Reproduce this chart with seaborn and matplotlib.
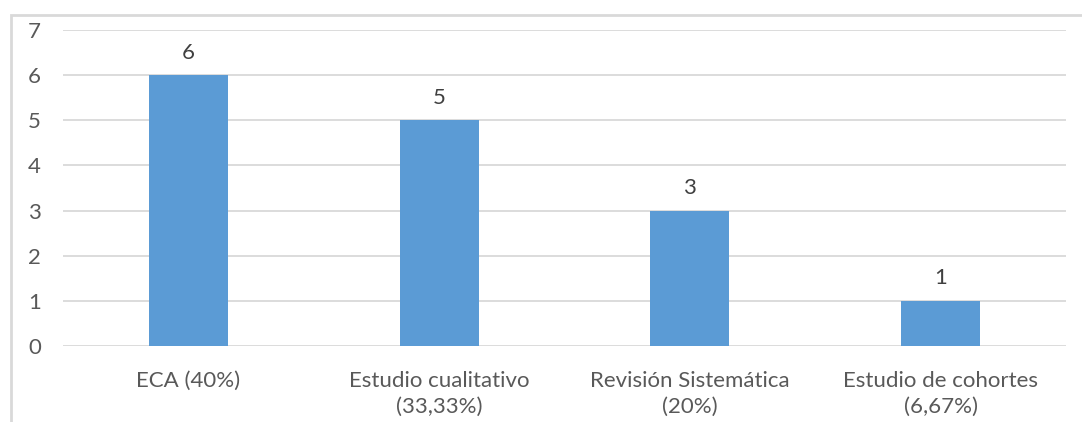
import matplotlib
matplotlib.use("Agg")
import matplotlib.pyplot as plt
import seaborn as sns
import pandas as pd
from matplotlib.patches import Rectangle

categories = ["ECA (40%)", "Estudio cualitativo\n(33,33%)", "Revisión Sistemática\n(20%)",
              "Estudio de cohortes\n(6,67%)"]
counts = [6, 5, 3, 1]
y_ticks = [0, 1, 2, 3, 4, 5, 6, 7]

sns.set_theme(style="white")
plt.rcParams["font.family"] = ["Lato", "DejaVu Sans"]

W, H = 1082, 422
fig = plt.figure(figsize=(W / 100, H / 100), dpi=100)
ax = fig.add_axes([63 / W, 1 - 346 / H, (1066 - 63) / W, (346 - 30) / H])

df = pd.DataFrame({"cat": categories, "n": counts})
sns.barplot(data=df, x="cat", y="n", color="#5B9BD5", saturation=1, width=0.315,
            linewidth=0, ax=ax, zorder=3)

ax.set_ylim(0, 7)
ax.set_xlim(-0.5, len(categories) - 0.5)
ax.set_yticks(y_ticks)
ax.yaxis.grid(True, color="#D9D9D9", linewidth=1.3, zorder=0)
ax.set_axisbelow(True)
for s in ax.spines.values():
    s.set_visible(False)
ax.set_xlabel("")
ax.set_ylabel("")
ax.tick_params(axis="both", length=0, colors="#595959", labelsize=16)
ax.tick_params(axis="y", pad=16)
ax.tick_params(axis="x", pad=18)
for lbl in ax.get_xticklabels():
    lbl.set_linespacing(1.35)

for bar, v in zip(ax.patches, counts):
    ax.annotate(str(v), (bar.get_x() + bar.get_width() / 2, v), xytext=(0, 9),
                textcoords="offset points", ha="center", va="bottom",
                fontsize=16, color="#404040")

# outer frame of the chart area (left and top edges visible)
fig.patches.append(Rectangle((11 / W, -0.1), 1.2, 1 - 15 / H + 0.1, transform=fig.transFigure,
                             fill=False, edgecolor="#D9D9D9", linewidth=2, zorder=0))

fig.savefig("out.png", dpi=100)
